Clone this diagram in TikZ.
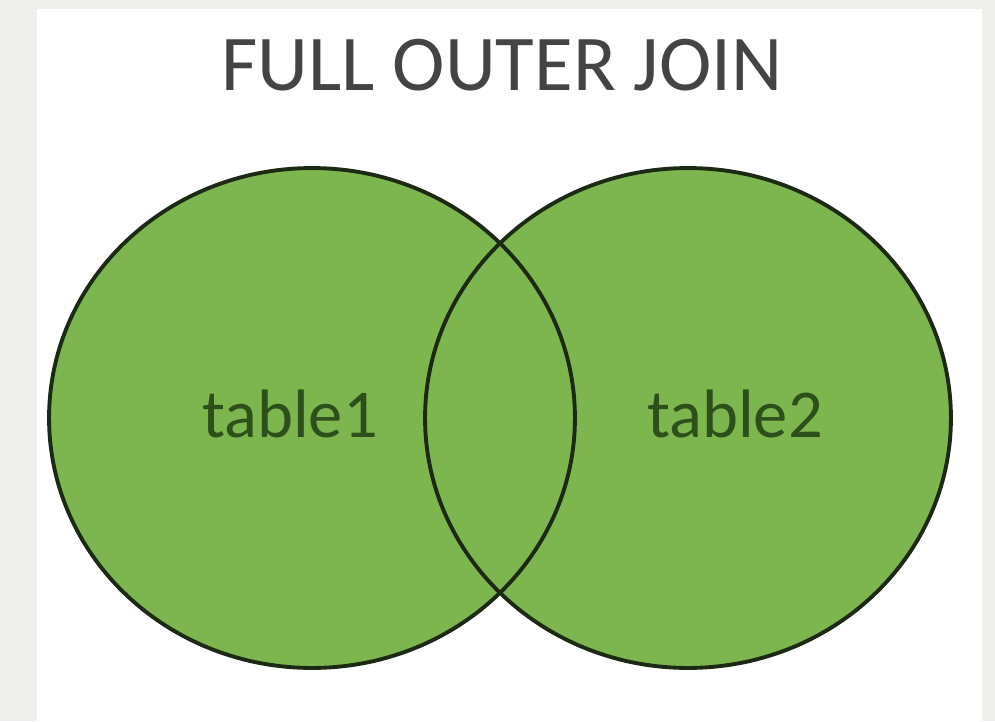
\documentclass[tikz,border=0pt]{standalone}
\usepackage{fontspec}
\setmainfont{Carlito}
\usetikzlibrary{shapes.geometric}
\definecolor{pageGray}{HTML}{EFEFEB}
\definecolor{vennGreen}{HTML}{7DB54F}
\definecolor{vennLine}{HTML}{1C2A14}
\definecolor{labelGreen}{HTML}{2C4F1C}
\definecolor{titleGray}{HTML}{444444}
\begin{document}
\begin{tikzpicture}[
  x=0.02cm, y=-0.02cm,
  set/.style={ellipse, inner sep=0pt, minimum width=10.52cm, minimum height=10cm},
  setfill/.style={set, fill=vennGreen},
  setline/.style={set, draw=vennLine, line width=2.2pt},
  lbl/.style={anchor=base, font=\fontsize{39}{39}\selectfont, text=labelGreen},
]
\fill[pageGray] (0,0) rectangle (995,721);
\fill[white] (37,9) rectangle (982,721);
\useasboundingbox (0,0) rectangle (995,721);

\node[anchor=base, font=\fontsize{45}{45}\selectfont, text=titleGray]
  (title) at (502,90) {FULL OUTER JOIN};

% sets: fill both first, then outlines on top
\node[setfill] (t1) at (312,418) {};
\node[setfill] (t2) at (688,418) {};
\node[setline] (t1line) at (t1) {};
\node[setline] (t2line) at (t2) {};

\node[lbl] (lbl1) at (290,437) {table1};
\node[lbl] (lbl2) at (735,437) {table2};
\end{tikzpicture}
\end{document}
